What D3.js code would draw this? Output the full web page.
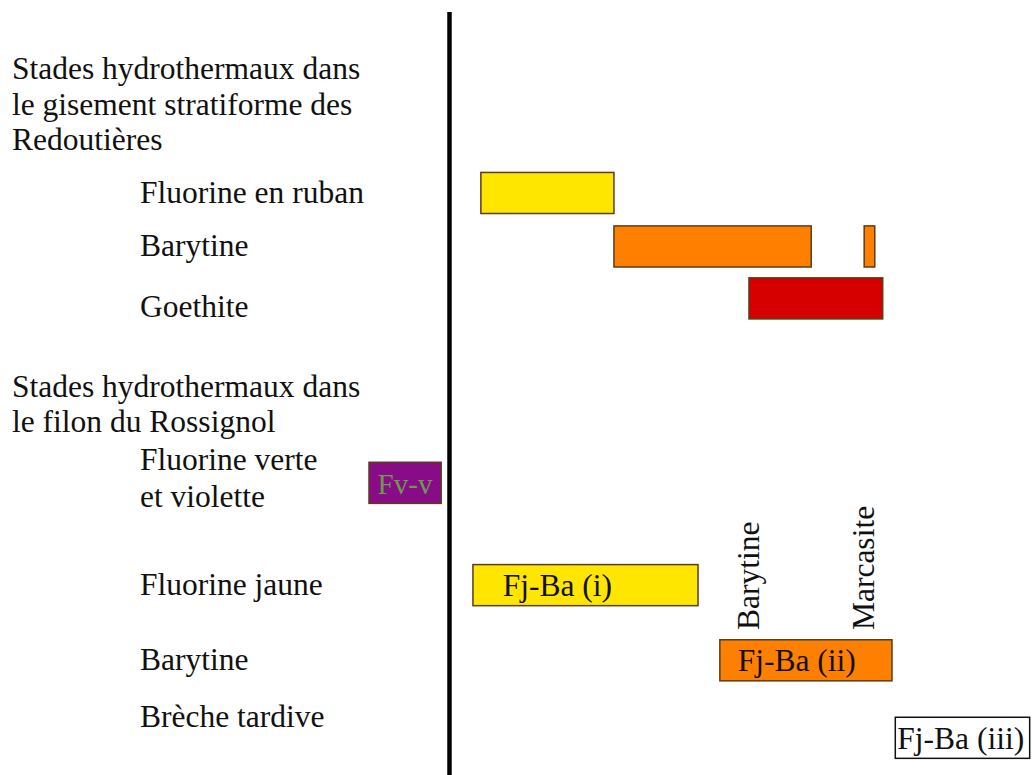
<!DOCTYPE html>
<html>
<head>
<meta charset="utf-8">
<script src="https://cdn.jsdelivr.net/npm/d3@7"></script>
<style>
  html, body { margin: 0; padding: 0; background: #ffffff; }
  svg { display: block; }
  text { font-family: "Liberation Serif", "Times New Roman", serif; fill: #111; }
</style>
</head>
<body>
<svg id="chart" width="1033" height="775"></svg>
<script>
// ---------- data (relative time units on x, row positions on y) ----------
const headerLines = [
  ["Stades hydrothermaux dans", "le gisement stratiforme des", "Redoutières"],
  ["Stades hydrothermaux dans", "le filon du Rossignol"]
];
const headerPos = [10.2, 51.2];            // y of first line of each header

const rowLabels = ["Fluorine en ruban", "Barytine", "Goethite",
                   "Fluorine verte|et violette", "Fluorine jaune", "Barytine", "Brèche tardive"];
const rowLabelPos = [26.2, 33.0, 40.9, 60.6, 76.8, 86.5, 93.8];

// bars: stage, start, end, row centre
const barStage  = ["ruban", "barR", "barR", "goethite", "fvv", "fj1", "fj2", "fj3"];
const barStart  = [16.9, 37.0, 74.8, 57.4, 0.0, 15.7, 53.0, 79.5];
const barEnd    = [37.0, 66.8, 76.4, 77.6, 10.9, 49.7, 79.0, 99.8];
const barRow    = [24.9, 31.8, 31.8, 38.5, 62.3, 75.5, 85.2, 95.2];
const barText   = ["", "", "", "", "Fv-v", "Fj-Ba (i)", "Fj-Ba (ii)", "Fj-Ba (iii)"];
const barTextX  = [0, 0, 0, 0, 1.3, 20.2, 55.7, 79.8];

// vertical marker labels
const markerText = ["Barytine", "Marcasite"];
const markerX    = [58.9, 76.3];
const markerBottom = 81.3;

// divider position
const dividerX = 12.16;

// ---------- styles ----------
const colors = {
  ruban: "#FFE600", barR: "#FF8000", goethite: "#D60000",
  fvv: "#880C88", fj1: "#FFE600", fj2: "#FF8000", fj3: "#FFFFFF"
};
const strokeColor = { fj3: "#111111" };

// ---------- scales ----------
const W = 1033, H = 775;
const x = d3.scaleLinear().domain([0, 100]).range([369, 1031]);
const y = d3.scaleLinear().domain([0, 100]).range([0, H]);
const barH = y(5.3) - y(0);
const fs = 31.5;

const svg = d3.select("#chart");

// divider line
svg.append("line")
  .attr("x1", x(dividerX)).attr("x2", x(dividerX))
  .attr("y1", y(1.55)).attr("y2", H)
  .attr("stroke", "#000").attr("stroke-width", 4.5);

// headers
headerLines.forEach((lines, i) => {
  lines.forEach((t, j) => {
    svg.append("text")
      .attr("x", 12)
      .attr("y", y(headerPos[i]) + j * 35.5)
      .attr("font-size", fs)
      .text(t);
  });
});

// row labels
rowLabels.forEach((t, i) => {
  t.split("|").forEach((line, j) => {
    svg.append("text")
      .attr("x", 140)
      .attr("y", y(rowLabelPos[i]) + j * 37)
      .attr("font-size", fs)
      .text(line);
  });
});

// bars
const bars = barStage.map((s, i) => ({
  stage: s, start: barStart[i], end: barEnd[i], row: barRow[i],
  text: barText[i], tx: barTextX[i]
}));

svg.selectAll("rect.bar").data(bars).enter().append("rect")
  .attr("class", "bar")
  .attr("x", d => x(d.start))
  .attr("y", d => y(d.row) - barH / 2)
  .attr("width", d => x(d.end) - x(d.start))
  .attr("height", barH)
  .attr("fill", d => colors[d.stage])
  .attr("stroke", d => strokeColor[d.stage] || "#5a3b1c")
  .attr("stroke-width", 1.5);

svg.selectAll("text.barlabel").data(bars.filter(d => d.text)).enter().append("text")
  .attr("class", "barlabel")
  .attr("x", d => x(d.tx))
  .attr("y", d => y(d.row) + (d.stage === "fvv" ? 11 : 11))
  .attr("font-size", d => d.stage === "fvv" ? 29 : fs)
  .style("fill", d => d.stage === "fvv" ? "#6E9A4C" : "#111")
  .text(d => d.text);

// rotated marker labels
markerText.forEach((t, i) => {
  svg.append("text")
    .attr("transform", `translate(${x(markerX[i])},${y(markerBottom)}) rotate(-90)`)
    .attr("font-size", fs)
    .text(t);
});
</script>
</body>
</html>
